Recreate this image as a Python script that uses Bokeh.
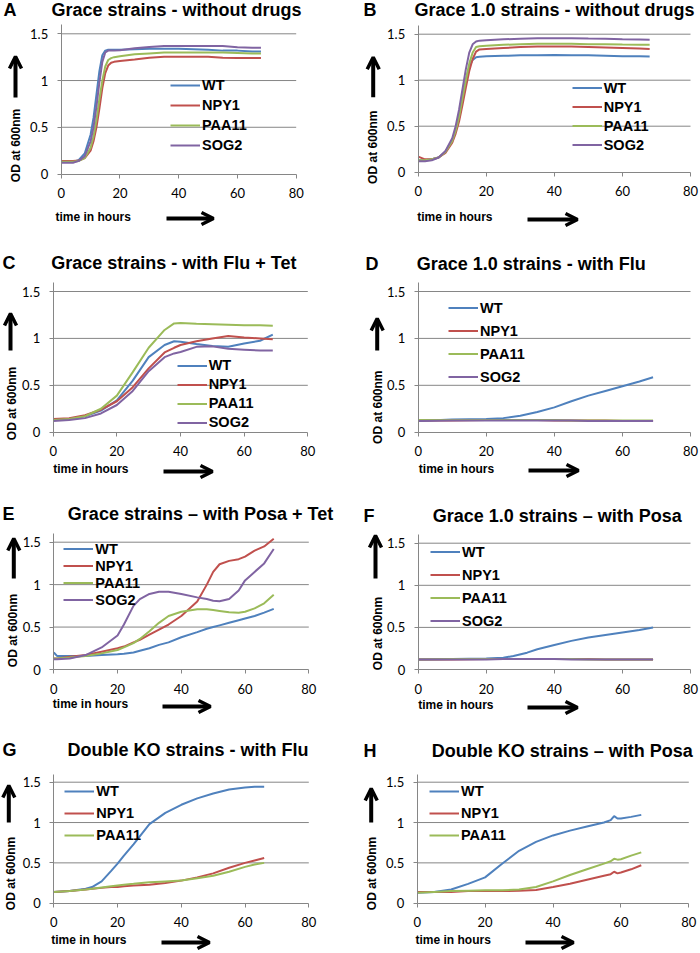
import math
from bokeh.plotting import figure
from bokeh.layouts import column, row
from bokeh.models import (Range1d, Label, Arrow, OpenHead, Legend, LegendItem,
                          FixedTicker, NumeralTickFormatter)
from bokeh.embed import file_html
from bokeh.resources import INLINE

# ---------------- data ----------------
x_ticks = [0, 20, 40, 60, 80]
y_ticks = [0, 0.5, 1, 1.5]
grid_ticks = [0.5, 1, 1.5]
x_extent = [0, 80]
y_extent = [0, 1.6]
strains4 = ["WT", "NPY1", "PAA11", "SOG2"]
strains3 = ["WT", "NPY1", "PAA11"]

A_time = [0, 2, 4, 6, 8, 10, 11, 12, 13, 14, 15, 16, 17, 18, 20, 25, 30, 35, 40, 45, 50, 55, 60, 65, 68]
A_WT = [0.13, 0.13, 0.13, 0.15, 0.22, 0.42, 0.6, 0.85, 1.1, 1.27, 1.32, 1.33, 1.33, 1.33, 1.33, 1.335, 1.34, 1.34, 1.34, 1.335, 1.33, 1.32, 1.32, 1.31, 1.31]
A_NPY1 = [0.14, 0.14, 0.14, 0.145, 0.17, 0.25, 0.35, 0.5, 0.7, 0.92, 1.08, 1.16, 1.19, 1.2, 1.21, 1.225, 1.245, 1.255, 1.255, 1.255, 1.255, 1.245, 1.24, 1.24, 1.24]
A_PAA11 = [0.13, 0.13, 0.13, 0.14, 0.17, 0.28, 0.4, 0.58, 0.8, 1.0, 1.15, 1.22, 1.24, 1.25, 1.26, 1.28, 1.29, 1.3, 1.3, 1.3, 1.3, 1.3, 1.295, 1.29, 1.29]
A_SOG2 = [0.12, 0.12, 0.12, 0.14, 0.19, 0.35, 0.5, 0.72, 0.98, 1.2, 1.3, 1.32, 1.32, 1.32, 1.325, 1.345, 1.36, 1.37, 1.37, 1.37, 1.37, 1.37, 1.355, 1.35, 1.35]

B_time = [0, 2, 4, 6, 8, 10, 11, 12, 13, 14, 15, 16, 17, 18, 20, 25, 30, 35, 40, 45, 50, 55, 60, 65, 68]
B_WT = [0.13, 0.13, 0.14, 0.16, 0.22, 0.35, 0.45, 0.6, 0.8, 1.0, 1.15, 1.22, 1.25, 1.255, 1.26, 1.265, 1.27, 1.27, 1.275, 1.27, 1.27, 1.265, 1.26, 1.26, 1.257]
B_NPY1 = [0.17, 0.14, 0.14, 0.16, 0.21, 0.32, 0.42, 0.55, 0.73, 0.92, 1.1, 1.23, 1.31, 1.335, 1.34, 1.35, 1.36, 1.365, 1.366, 1.365, 1.36, 1.355, 1.35, 1.345, 1.34]
B_PAA11 = [0.13, 0.13, 0.14, 0.16, 0.22, 0.34, 0.45, 0.6, 0.8, 1.0, 1.18, 1.3, 1.36, 1.37, 1.375, 1.385, 1.39, 1.395, 1.395, 1.395, 1.39, 1.39, 1.387, 1.385, 1.384]
B_SOG2 = [0.12, 0.12, 0.13, 0.16, 0.23, 0.37, 0.5, 0.68, 0.9, 1.12, 1.3, 1.39, 1.42, 1.43, 1.435, 1.445, 1.45, 1.455, 1.457, 1.455, 1.452, 1.45, 1.445, 1.442, 1.44]

C_time = [0, 5, 10, 15, 20, 25, 30, 35, 38, 40, 45, 50, 55, 60, 65, 69]
C_WT = [0.13, 0.14, 0.17, 0.23, 0.34, 0.55, 0.8, 0.93, 0.97, 0.965, 0.94, 0.92, 0.91, 0.945, 0.975, 1.04]
C_NPY1 = [0.14, 0.15, 0.18, 0.24, 0.33, 0.48, 0.68, 0.85, 0.9, 0.93, 0.97, 1.0, 1.025, 1.01, 1.0, 0.99]
C_PAA11 = [0.13, 0.14, 0.17, 0.25, 0.39, 0.64, 0.9, 1.09, 1.16, 1.165, 1.155, 1.15, 1.145, 1.14, 1.14, 1.135]
C_SOG2 = [0.12, 0.13, 0.15, 0.2, 0.29, 0.44, 0.65, 0.8, 0.84, 0.855, 0.91, 0.915, 0.89, 0.88, 0.87, 0.87]

D_time = [0, 10, 20, 25, 30, 35, 40, 45, 50, 55, 60, 65, 69]
D_WT = [0.12, 0.135, 0.14, 0.15, 0.175, 0.215, 0.265, 0.33, 0.39, 0.44, 0.49, 0.54, 0.585]
D_NPY1 = [0.125, 0.125, 0.13, 0.13, 0.13, 0.13, 0.125, 0.125, 0.125, 0.125, 0.12, 0.12, 0.12]
D_PAA11 = [0.13, 0.13, 0.13, 0.13, 0.13, 0.13, 0.13, 0.125, 0.125, 0.125, 0.125, 0.125, 0.125]
D_SOG2 = [0.12, 0.125, 0.125, 0.125, 0.125, 0.125, 0.125, 0.125, 0.12, 0.12, 0.12, 0.12, 0.12]

E_time = [0, 1, 5, 10, 15, 20, 22, 25, 27, 30, 33, 36, 40, 45, 48, 50, 52, 55, 58, 60, 63, 66, 69]
E_WT = [0.2, 0.16, 0.16, 0.16, 0.17, 0.18, 0.185, 0.2, 0.22, 0.25, 0.29, 0.32, 0.38, 0.44, 0.48, 0.5, 0.52, 0.55, 0.58, 0.6, 0.63, 0.67, 0.715]
E_NPY1 = [0.13, 0.13, 0.15, 0.17, 0.21, 0.25, 0.27, 0.32, 0.35, 0.41, 0.47, 0.53, 0.63, 0.8, 1.0, 1.15, 1.24, 1.28, 1.3, 1.33, 1.4, 1.45, 1.54]
E_PAA11 = [0.13, 0.13, 0.14, 0.16, 0.19, 0.23, 0.26, 0.31, 0.36, 0.45, 0.55, 0.63, 0.68, 0.71, 0.71, 0.7, 0.69, 0.675, 0.67, 0.68, 0.72, 0.78, 0.88]
E_SOG2 = [0.12, 0.12, 0.13, 0.17, 0.26, 0.4, 0.53, 0.75, 0.83, 0.89, 0.915, 0.915, 0.89, 0.85, 0.83, 0.81, 0.805, 0.83, 0.93, 1.05, 1.15, 1.25, 1.42]

F_time = [0, 10, 20, 25, 28, 32, 35, 40, 45, 50, 55, 60, 65, 69]
F_WT = [0.12, 0.125, 0.13, 0.14, 0.16, 0.2, 0.24, 0.29, 0.34, 0.38, 0.41, 0.44, 0.47, 0.5]
F_NPY1 = [0.12, 0.12, 0.125, 0.125, 0.125, 0.125, 0.125, 0.125, 0.125, 0.125, 0.12, 0.12, 0.12, 0.12]
F_PAA11 = [0.12, 0.125, 0.125, 0.125, 0.125, 0.125, 0.125, 0.125, 0.125, 0.12, 0.12, 0.12, 0.12, 0.12]
F_SOG2 = [0.12, 0.12, 0.12, 0.125, 0.125, 0.125, 0.125, 0.125, 0.12, 0.12, 0.12, 0.12, 0.12, 0.12]

G_time = [0, 5, 10, 12, 15, 18, 20, 22, 25, 30, 35, 40, 45, 50, 55, 60, 63, 66]
G_WT = [0.14, 0.15, 0.18, 0.2, 0.27, 0.4, 0.49, 0.59, 0.73, 0.98, 1.12, 1.22, 1.3, 1.36, 1.41, 1.435, 1.445, 1.445]
G_NPY1 = [0.14, 0.15, 0.17, 0.18, 0.19, 0.2, 0.2, 0.21, 0.22, 0.23, 0.25, 0.28, 0.32, 0.37, 0.44, 0.5, 0.53, 0.56]
G_PAA11 = [0.14, 0.15, 0.17, 0.18, 0.195, 0.21, 0.22, 0.23, 0.24, 0.26, 0.27, 0.28, 0.31, 0.34, 0.39, 0.45, 0.48, 0.5]

H_time = [0, 5, 10, 15, 20, 25, 30, 35, 40, 45, 50, 55, 57, 58, 59, 60, 63, 66]
H_WT = [0.13, 0.14, 0.17, 0.24, 0.32, 0.49, 0.65, 0.76, 0.84, 0.9, 0.95, 1.0, 1.03, 1.08, 1.05, 1.05, 1.07, 1.095]
H_NPY1 = [0.14, 0.14, 0.14, 0.15, 0.15, 0.15, 0.155, 0.165, 0.2, 0.24, 0.29, 0.34, 0.36, 0.39, 0.37, 0.38, 0.42, 0.47]
H_PAA11 = [0.13, 0.14, 0.15, 0.155, 0.16, 0.16, 0.17, 0.2, 0.27, 0.35, 0.42, 0.49, 0.52, 0.55, 0.54, 0.545, 0.59, 0.63]

COLORS = {"WT": "#4F81BD", "NPY1": "#C0504D", "PAA11": "#9BBB59", "SOG2": "#8064A2"}
GRAY = "#868686"
BOLD_FONT = "Liberation Sans"
TICK_FONT = "Lato"

# ---------------- layout (page pixel positions) ----------------
panels = [
    dict(letter="A", title="Grace strains - without drugs", fig=(0, 0, 350, 235),
         frame=(60.7, 295.7, 173.5, 33.3), title_pos=(176, 9), letter_pos=(3, 9),
         leg=(170, 155.2, 20.3), ylab=(15, 145), up=(15, 97, 56), tlab=(55, 216), right=(166, 213, 218),
         time=A_time, series=[A_WT, A_NPY1, A_PAA11, A_SOG2], names=strains4),
    dict(letter="B", title="Grace 1.0 strains - without drugs", fig=(350, 0, 350, 235),
         frame=(417.7, 690, 171.7, 33.7), title_pos=(554, 9), letter_pos=(363, 9),
         leg=(571.7, 154, 19.4), ylab=(372.7, 146.7), up=(372.7, 96.7, 56.7), tlab=(416.7, 216), right=(527, 577, 219),
         time=B_time, series=[B_WT, B_NPY1, B_PAA11, B_SOG2], names=strains4),
    dict(letter="C", title="Grace strains - with Flu + Tet", fig=(0, 235, 350, 255),
         frame=(52.7, 307.3, 431.7, 291), title_pos=(173.3, 262.7), letter_pos=(2, 262.5),
         leg=(176.7, 431.9, 19.1), ylab=(11.7, 403), up=(10, 350, 313), tlab=(52.7, 468.7), right=(163, 212, 471),
         time=C_time, series=[C_WT, C_NPY1, C_PAA11, C_SOG2], names=strains4),
    dict(letter="D", title="Grace 1.0 strains - with Flu", fig=(350, 235, 350, 255),
         frame=(417.7, 690, 431.7, 291), title_pos=(530.8, 263.3), letter_pos=(365, 263),
         leg=(448, 388.1, 22.8), ylab=(377, 406.7), up=(376.7, 350, 318), tlab=(418.3, 468.7), right=(528, 578, 470),
         time=D_time, series=[D_WT, D_NPY1, D_PAA11, D_SOG2], names=strains4),
    dict(letter="E", title="Grace strains \u2013 with Posa + Tet", fig=(0, 490, 350, 235),
         frame=(53.3, 308.3, 669, 541.7), title_pos=(200, 513.3), letter_pos=(2, 513),
         leg=(63.3, 608.4, 16.7), ylab=(12.7, 630), up=(13.3, 578, 538), tlab=(52.3, 703.3), right=(162, 210, 706),
         time=E_time, series=[E_WT, E_NPY1, E_PAA11, E_SOG2], names=strains4),
    dict(letter="F", title="Grace 1.0 strains \u2013 with Posa", fig=(350, 490, 350, 235),
         frame=(417.7, 690, 669, 542.7), title_pos=(556.7, 515), letter_pos=(363, 515),
         leg=(430, 632.3, 22.6), ylab=(377, 633), up=(375, 578, 535), tlab=(417.7, 704), right=(527, 577, 707),
         time=F_time, series=[F_WT, F_NPY1, F_PAA11, F_SOG2], names=strains4),
    dict(letter="G", title="Double KO strains - with Flu", fig=(0, 725, 350, 228),
         frame=(53.3, 308.3, 902.7, 781.7), title_pos=(187.5, 749.3), letter_pos=(2, 749),
         leg=(64.3, 845.8, 21.7), ylab=(10, 873), up=(8.3, 822, 785), tlab=(50.7, 939.3), right=(161, 209, 942),
         time=G_time, series=[G_WT, G_NPY1, G_PAA11], names=strains3),
    dict(letter="H", title="Double KO strains \u2013 with Posa", fig=(350, 725, 350, 228),
         frame=(416.7, 688.3, 902.7, 781.7), title_pos=(561.7, 750), letter_pos=(363, 750),
         leg=(429, 845.8, 21.7), ylab=(371.7, 873), up=(370.7, 822, 788), tlab=(415, 939), right=(525, 573, 942),
         time=H_time, series=[H_WT, H_NPY1, H_PAA11], names=strains3),
]


def make_panel(cfg):
    ox, oy, w, h = cfg["fig"]
    L, R, y0, y15 = cfg["frame"]

    def dx(px):
        return (px - L) / (R - L) * 80.0

    def dy(py):
        return (y0 - py) / (y0 - y15) * 1.5

    p = figure(width=w, height=h, x_range=Range1d(dx(ox), dx(ox + w)),
               y_range=Range1d(dy(oy + h), dy(oy)),
               output_backend="svg", toolbar_location=None, title=None,
               min_border=0, min_border_left=0, min_border_right=0,
               min_border_top=0, min_border_bottom=0)
    p.outline_line_color = None
    p.background_fill_color = "white"
    p.border_fill_color = "white"
    p.xgrid.visible = False
    p.ygrid.visible = False

    # horizontal gridlines limited to the plotting area
    p.segment(x0=x_extent[0], x1=x_extent[1], y0=grid_ticks, y1=grid_ticks,
              line_color=GRAY, line_width=1, level="underlay")

    p.xaxis.ticker = FixedTicker(ticks=x_ticks)
    p.yaxis.ticker = FixedTicker(ticks=y_ticks)
    p.yaxis.formatter = NumeralTickFormatter(format="0.[0]")
    p.xaxis.fixed_location = 0
    p.yaxis.fixed_location = 0
    p.xaxis.bounds = (x_extent[0], x_extent[1])
    p.yaxis.bounds = (y_extent[0], y_extent[1])
    for ax in (p.xaxis, p.yaxis):
        ax.axis_line_color = GRAY
        ax.axis_line_width = 1
        ax.major_tick_line_color = GRAY
        ax.major_tick_out = 4
        ax.major_tick_in = 0
        ax.minor_tick_line_color = None
        ax.major_label_text_font = TICK_FONT
        ax.major_label_text_font_size = "13px"
        ax.major_label_text_color = "black"
    p.xaxis.major_label_standoff = 10
    p.yaxis.major_label_standoff = 9

    items = []
    for name, vals in zip(cfg["names"], cfg["series"]):
        r = p.line(cfg["time"], vals, line_color=COLORS[name], line_width=2)
        items.append(LegendItem(label=name, renderers=[r]))

    gl, lbot, rh = cfg["leg"]
    legend = Legend(items=items, location=(gl - ox, (oy + h) - lbot), glyph_width=30,
                    glyph_height=int(round(rh)), label_height=int(round(rh)), spacing=0,
                    padding=0, margin=0, label_standoff=2, border_line_color=None,
                    background_fill_alpha=0, label_text_font=BOLD_FONT,
                    label_text_font_style="bold", label_text_font_size="14.5px",
                    label_text_color="black")
    p.add_layout(legend)

    tx, ty = cfg["title_pos"]
    p.add_layout(Label(x=dx(tx), y=dy(ty), text=cfg["title"], text_align="center",
                       text_baseline="middle", text_font=BOLD_FONT, text_font_style="bold",
                       text_font_size="18px", text_color="black"))
    lx, ly = cfg["letter_pos"]
    p.add_layout(Label(x=dx(lx), y=dy(ly), text=cfg["letter"], text_align="left",
                       text_baseline="middle", text_font=BOLD_FONT, text_font_style="bold",
                       text_font_size="18px", text_color="black"))
    yx, yy = cfg["ylab"]
    p.add_layout(Label(x=dx(yx), y=dy(yy), text="OD at 600nm", angle=math.pi / 2,
                       text_align="center", text_baseline="middle", text_font=BOLD_FONT,
                       text_font_style="bold", text_font_size="12px", text_color="black"))
    tlx, tly = cfg["tlab"]
    p.add_layout(Label(x=dx(tlx), y=dy(tly), text="time in hours", text_align="left",
                       text_baseline="middle", text_font=BOLD_FONT, text_font_style="bold",
                       text_font_size="12px", text_color="black"))
    ux, uy0, uy1 = cfg["up"]
    p.add_layout(Arrow(end=OpenHead(size=12, line_width=3.5, line_color="black"),
                       x_start=dx(ux), y_start=dy(uy0), x_end=dx(ux), y_end=dy(uy1),
                       line_width=4, line_color="black"))
    rx0, rx1, ry = cfg["right"]
    p.add_layout(Arrow(end=OpenHead(size=12, line_width=3.5, line_color="black"),
                       x_start=dx(rx0), y_start=dy(ry), x_end=dx(rx1), y_end=dy(ry),
                       line_width=4, line_color="black"))
    return p


figs = [make_panel(c) for c in panels]
layout = column(row(figs[0], figs[1]), row(figs[2], figs[3]),
                row(figs[4], figs[5]), row(figs[6], figs[7]))

open("out.html", "w").write(file_html(layout, INLINE))
